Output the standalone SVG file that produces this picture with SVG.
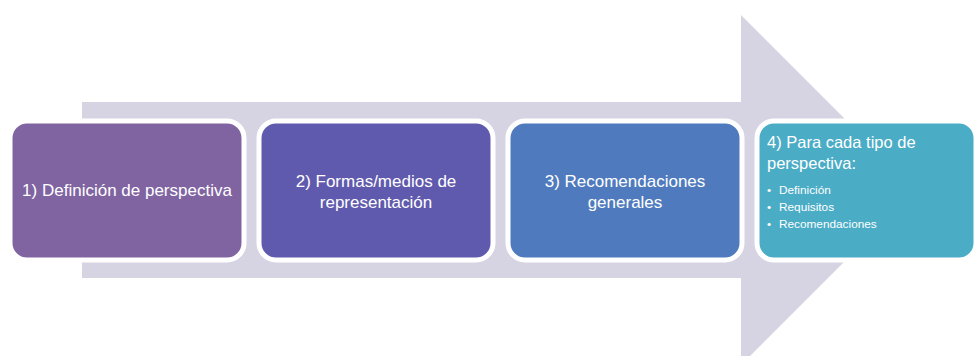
<svg xmlns="http://www.w3.org/2000/svg" width="976" height="356" viewBox="0 0 976 356">
<style>
.box{stroke:#fff;stroke-width:5}
.t{font-family:"Liberation Sans",Arial,sans-serif;font-size:17px;fill:#fff;text-anchor:middle}
.h{font-family:"Liberation Sans",Arial,sans-serif;font-size:16.5px;fill:#fff}
.s{font-family:"Liberation Sans",Arial,sans-serif;font-size:11.8px;fill:#fff}
</style>
<rect width="976" height="356" fill="#fff"/>
<g id="arrow">
<polygon points="82,102 741,102 741,15 916,190 741,365 741,278 82,278" fill="#D6D3E2"/>
</g>
<g id="connectors"></g>
<g id="n1">
<rect class="box" x="10" y="121" width="234" height="139" rx="17" fill="#8064A2"/>
<text class="t" x="127" y="196">1) Definición de perspectiva</text>
</g>
<g id="n2">
<rect class="box" x="259" y="121" width="234" height="139" rx="17" fill="#5F5AAD"/>
<text class="t" x="376" y="187">2) Formas/medios de</text>
<text class="t" x="376" y="208">representación</text>
</g>
<g id="n3">
<rect class="box" x="508" y="121" width="234" height="139" rx="17" fill="#4F7BBE"/>
<text class="t" x="625" y="187">3) Recomendaciones</text>
<text class="t" x="625" y="208">generales</text>
</g>
<g id="n4">
<rect class="box" x="757" y="121" width="219" height="139" rx="17" fill="#4BACC6"/>
<text class="h" x="767" y="148">4) Para cada tipo de</text>
<text class="h" x="767" y="169">perspectiva:</text>
<text class="s" x="767" y="194">• <tspan x="779">Definición</tspan></text>
<text class="s" x="767" y="211">• <tspan x="779">Requisitos</tspan></text>
<text class="s" x="767" y="228">• <tspan x="779">Recomendaciones</tspan></text>
</g>
</svg>
